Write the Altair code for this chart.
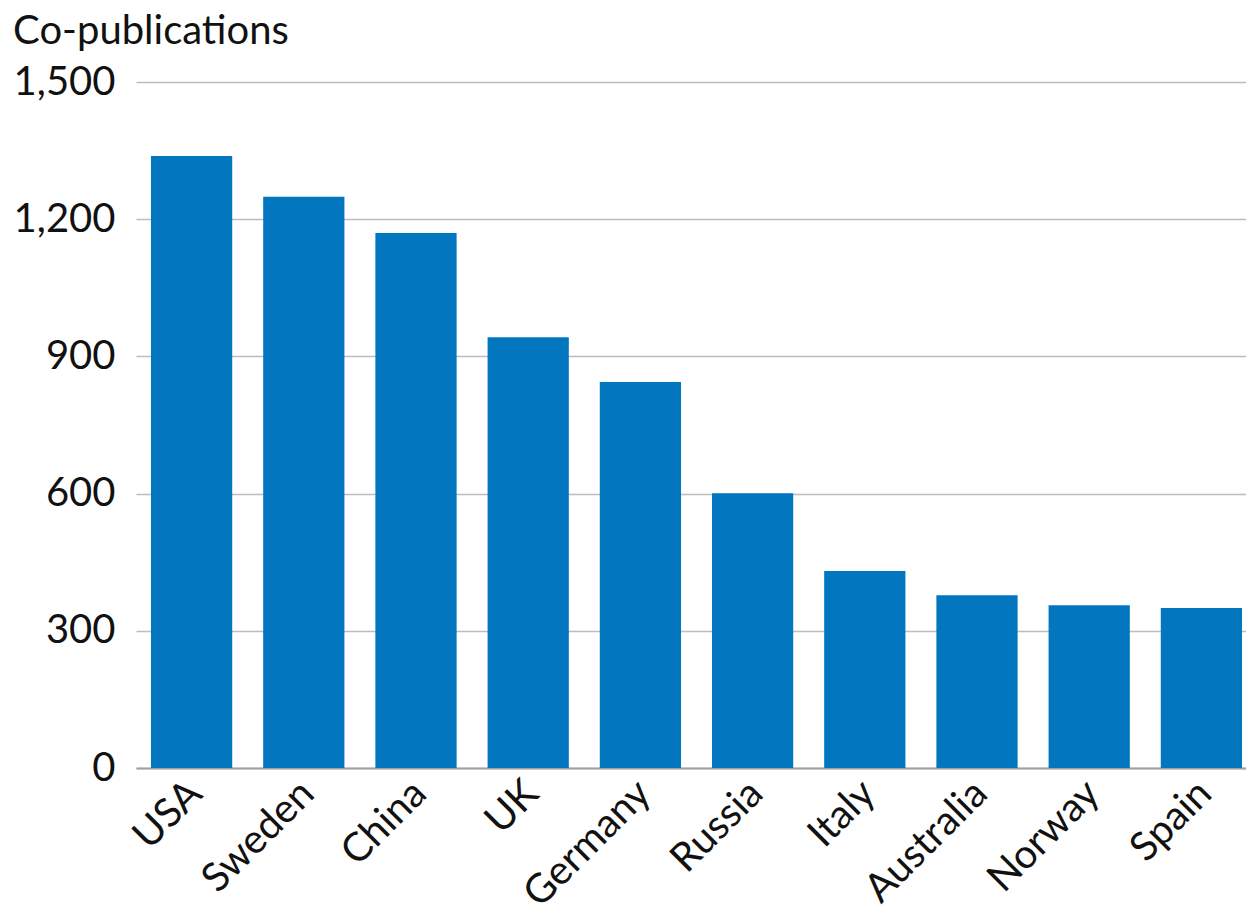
import altair as alt
import pandas as pd

countries = ["USA", "Sweden", "China", "UK", "Germany", "Russia", "Italy", "Australia", "Norway", "Spain"]
copubs = [1338, 1249, 1170, 942, 844, 601, 431, 378, 356, 350]

df = pd.DataFrame({"country": countries, "value": copubs})

FONT = "Lato"

chart = alt.Chart(df).mark_bar(color="#0277BF").encode(
    x=alt.X("country:N", sort=countries,
            scale=alt.Scale(paddingInner=0.276, paddingOuter=0.0845, align=0.79),
            axis=alt.Axis(title=None, labelAngle=-45, labelAlign="right", labelBaseline="middle",
                          labelFontSize=40, labelFont=FONT, labelColor="#111111",
                          labelPadding=19, labelOffset=4, ticks=False,
                          domainColor="#A0A0A0", domainWidth=2)),
    y=alt.Y("value:Q", scale=alt.Scale(domain=[0, 1500]),
            axis=alt.Axis(title=None, values=[0, 300, 600, 900, 1200, 1500], format=",d",
                          labelFontSize=40, labelFont=FONT, labelColor="#111111",
                          labelPadding=21, ticks=False, domain=False,
                          gridColor="#BDBDBD", gridWidth=1.3)),
).properties(
    width=1110, height=686,
    title=alt.TitleParams("Co-publications", anchor="start", frame="bounds", font=FONT,
                          fontSize=40, fontWeight="normal", color="#111111", offset=10),
    padding={"left": 5, "top": 4, "right": 0, "bottom": 0},
).configure_view(stroke=None)

chart.save("out.html", embed_options={"renderer": "svg", "actions": False})
